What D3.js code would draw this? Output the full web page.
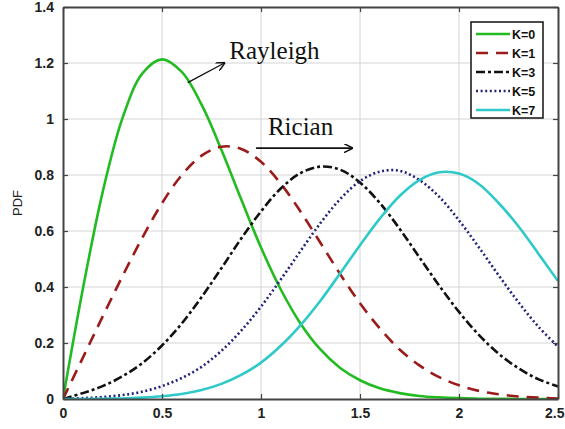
<!DOCTYPE html>
<html>
<head>
<meta charset="utf-8">
<script src="https://cdn.jsdelivr.net/npm/d3@7"></script>
<style>
  body { margin: 0; background: #fff; }
  svg { display: block; }
  .tick-label { font-family: Arial, "Liberation Sans", sans-serif; font-size: 14px; fill: #222; font-weight: bold; }
  .legend-label { font-family: Arial, "Liberation Sans", sans-serif; font-size: 12.5px; fill: #111; font-weight: bold; }
  .note { font-family: "Times New Roman", "Liberation Serif", serif; font-size: 25px; fill: #111; }
</style>
</head>
<body>
<svg id="chart" width="565" height="429"></svg>
<script>
// sample positions along x (0 .. 2.5, step 0.1)
const x_values = d3.range(26).map(i => +(i * 0.1).toFixed(1));

// PDF values
const pdf_k0 = [0, 0.392, 0.738, 1.002, 1.162, 1.213, 1.168, 1.051, 0.890, 0.713, 0.541,
  0.391, 0.269, 0.177, 0.111, 0.067, 0.038, 0.021, 0.011, 0.006, 0.003,
  0.001, 0.001, 0.000, 0.000, 0.000];
const pdf_k1 = [0, 0.147, 0.294, 0.438, 0.575, 0.699, 0.800, 0.869, 0.901, 0.893, 0.847,
  0.769, 0.669, 0.558, 0.446, 0.342, 0.252, 0.177, 0.120, 0.078, 0.049,
  0.029, 0.017, 0.009, 0.005, 0.002];
const pdf_k3 = [0, 0.021, 0.046, 0.081, 0.128, 0.191, 0.270, 0.364, 0.467, 0.573, 0.670,
  0.752, 0.807, 0.830, 0.819, 0.773, 0.700, 0.608, 0.506, 0.405, 0.311,
  0.229, 0.162, 0.110, 0.071, 0.045];
const pdf_k5 = [0, 0.003, 0.007, 0.014, 0.026, 0.046, 0.075, 0.115, 0.172, 0.244, 0.330,
  0.427, 0.529, 0.628, 0.714, 0.778, 0.812, 0.815, 0.782, 0.722, 0.638,
  0.542, 0.442, 0.346, 0.259, 0.187];
const pdf_k7 = [0, 0.000, 0.001, 0.002, 0.005, 0.010, 0.018, 0.032, 0.054, 0.086, 0.130,
  0.190, 0.264, 0.351, 0.449, 0.549, 0.644, 0.725, 0.782, 0.810, 0.805,
  0.768, 0.700, 0.617, 0.520, 0.421];

const series_names = ["K=0", "K=1", "K=3", "K=5", "K=7"];
const series_values = [pdf_k0, pdf_k1, pdf_k3, pdf_k5, pdf_k7];

const x_ticks = [0, 0.5, 1, 1.5, 2, 2.5];
const y_ticks = [0, 0.2, 0.4, 0.6, 0.8, 1, 1.2, 1.4];

// annotation anchors in data units
const rayleigh_text = [0.84, 1.214];
const rayleigh_arrow = [[0.63, 1.13], [0.815, 1.2]];
const rician_text = [1.035, 0.943];
const rician_arrow = [[0.975, 0.896], [1.46, 0.896]];

const styles = [
  { color: "#22bb22", dash: null, width: 2.6 },
  { color: "#9b1b1b", dash: "12,8", width: 2.6 },
  { color: "#111111", dash: "9,3,3,3", width: 2.6 },
  { color: "#23237a", dash: "2,2.6", width: 2.6 },
  { color: "#2fc9c9", dash: null, width: 2.6 }
];

const marginTop = 7, marginRight = 7, marginBottom = 30, marginLeft = 63;
const width = 565, height = 429;

const svg = d3.select("#chart");

const x = d3.scaleLinear().domain([0, 2.5]).range([marginLeft, width - marginRight]);
const y = d3.scaleLinear().domain([0, 1.4]).range([height - marginBottom, marginTop]);

// grid
svg.append("g")
  .selectAll("line")
  .data(x_ticks.slice(1, -1))
  .join("line")
  .attr("x1", d => x(d)).attr("x2", d => x(d))
  .attr("y1", y(0)).attr("y2", y(1.4))
  .attr("stroke", "#d4d4d4").attr("stroke-width", 1);

svg.append("g")
  .selectAll("line")
  .data(y_ticks.slice(1, -1))
  .join("line")
  .attr("x1", x(0)).attr("x2", x(2.5))
  .attr("y1", d => y(d)).attr("y2", d => y(d))
  .attr("stroke", "#d4d4d4").attr("stroke-width", 1);

// curves
const line = d3.line()
  .x((d, i) => x(x_values[i]))
  .y(d => y(d))
  .curve(d3.curveCatmullRom.alpha(0.5));

svg.append("clipPath").attr("id", "clip")
  .append("rect")
  .attr("x", x(0)).attr("y", y(1.4))
  .attr("width", x(2.5) - x(0)).attr("height", y(0) - y(1.4));

svg.append("g")
  .attr("clip-path", "url(#clip)")
  .selectAll("path")
  .data(series_values)
  .join("path")
  .attr("d", d => line(d))
  .attr("fill", "none")
  .attr("stroke", (d, i) => styles[i].color)
  .attr("stroke-width", (d, i) => styles[i].width)
  .attr("stroke-dasharray", (d, i) => styles[i].dash);

// axes: box with inward ticks on all sides
const ax = svg.append("g");
ax.append("g")
  .attr("transform", `translate(0,${y(0)})`)
  .call(d3.axisBottom(x).tickValues(x_ticks).tickSizeInner(-5).tickSizeOuter(0).tickPadding(9).tickFormat(d3.format("")));
ax.append("g")
  .attr("transform", `translate(0,${y(1.4)})`)
  .call(d3.axisTop(x).tickValues(x_ticks).tickSizeInner(-5).tickSizeOuter(0).tickFormat(""));
ax.append("g")
  .attr("transform", `translate(${x(0)},0)`)
  .call(d3.axisLeft(y).tickValues(y_ticks).tickSizeInner(-5).tickSizeOuter(0).tickPadding(9).tickFormat(d3.format("")));
ax.append("g")
  .attr("transform", `translate(${x(2.5)},0)`)
  .call(d3.axisRight(y).tickValues(y_ticks).tickSizeInner(-5).tickSizeOuter(0).tickFormat(""));

ax.selectAll(".domain").attr("stroke", "#444").attr("stroke-width", 2);
ax.selectAll(".tick line").attr("stroke", "#444").attr("stroke-width", 1.2);
ax.selectAll(".tick text").attr("class", "tick-label").attr("fill", "#222");

// keep the last x label inside the page
ax.selectAll(".tick text").filter(d => d === 2.5).attr("text-anchor", "end").attr("dx", 6);

svg.append("text")
  .attr("transform", `translate(22,${y(0.7)}) rotate(-90)`)
  .attr("text-anchor", "middle")
  .attr("font-family", "Arial, 'Liberation Sans', sans-serif")
  .attr("font-size", 13)
  .attr("fill", "#222")
  .text("PDF");

// annotations
svg.append("defs").append("marker")
  .attr("id", "head")
  .attr("viewBox", "0 0 10 10")
  .attr("refX", 9).attr("refY", 5)
  .attr("markerWidth", 9).attr("markerHeight", 9)
  .attr("markerUnits", "userSpaceOnUse")
  .attr("orient", "auto")
  .append("path")
  .attr("d", "M0,0 L10,5 L0,10")
  .attr("fill", "none").attr("stroke", "#111").attr("stroke-width", 1.6);

[rayleigh_arrow, rician_arrow].forEach((a, i) => {
  svg.append("line")
    .attr("x1", x(a[0][0])).attr("y1", y(a[0][1]))
    .attr("x2", x(a[1][0])).attr("y2", y(a[1][1]))
    .attr("stroke", "#111").attr("stroke-width", i == 0 ? 1.3 : 1.8)
    .attr("marker-end", "url(#head)");
});

svg.append("text").attr("class", "note")
  .attr("x", x(rayleigh_text[0])).attr("y", y(rayleigh_text[1]))
  .text("Rayleigh");
svg.append("text").attr("class", "note")
  .attr("x", x(rician_text[0])).attr("y", y(rician_text[1]))
  .text("Rician");

// legend
const legend = svg.append("g").attr("transform", "translate(471,22)");
legend.append("rect")
  .attr("width", 72).attr("height", 96)
  .attr("fill", "#fff").attr("stroke", "#111").attr("stroke-width", 1.5);

const rows = legend.selectAll("g.row")
  .data(series_names)
  .join("g")
  .attr("class", "row")
  .attr("transform", (d, i) => `translate(0,${12 + i * 19})`);

rows.append("line")
  .attr("x1", 5).attr("x2", 39)
  .attr("stroke", (d, i) => styles[i].color)
  .attr("stroke-width", 2.4)
  .attr("stroke-dasharray", (d, i) => styles[i].dash);

rows.append("text")
  .attr("class", "legend-label")
  .attr("x", 41).attr("dy", "0.36em")
  .text(d => d);
</script>
</body>
</html>
